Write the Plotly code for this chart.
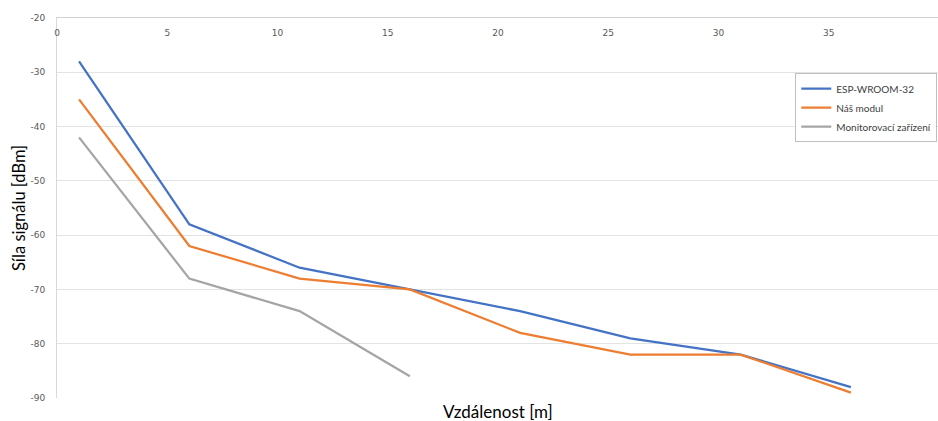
import plotly.graph_objects as go

distance = [1, 6, 11, 16, 21, 26, 31, 36]
esp_wroom = [-28, -58, -66, -70, -74, -79, -82, -88]
nas_modul = [-35, -62, -68, -70, -78, -82, -82, -89]
monitor_x = [1, 6, 11, 16]
monitor = [-42, -68, -74, -86]

x_ticks = [0, 5, 10, 15, 20, 25, 30, 35, 40]
y_ticks = [-20, -30, -40, -50, -60, -70, -80, -90]
y_tick_text = [str(v) for v in y_ticks]

fig = go.Figure()
fig.add_trace(go.Scatter(x=distance, y=esp_wroom, mode="lines", name="ESP-WROOM-32",
                         line=dict(color="#4472C4", width=2.25)))
fig.add_trace(go.Scatter(x=distance, y=nas_modul, mode="lines", name="Náš modul",
                         line=dict(color="#ED7D31", width=2.25)))
fig.add_trace(go.Scatter(x=monitor_x, y=monitor, mode="lines", name="Monitorovací zařízení",
                         xaxis="x2", yaxis="y",
                         line=dict(color="#A5A5A5", width=2.25)))

tick_font = dict(family="DejaVu Sans", size=9, color="#595959")

fig.update_layout(
    width=938, height=421,
    margin=dict(l=57, r=0, t=18, b=23),
    paper_bgcolor="white", plot_bgcolor="white",
    showlegend=True,
    legend=dict(x=0.838, y=0.855, xanchor="left", yanchor="top",
                bgcolor="white", bordercolor="#BFBFBF", borderwidth=1,
                font=dict(family="Lato", size=10, color="#404040"),
                itemwidth=30),
    xaxis=dict(range=[0, 39.95], side="top", showticklabels=False,
               showgrid=False, zeroline=False,
               showline=True, linecolor="#D0D0D0", linewidth=1, ticks=""),
    xaxis2=dict(overlaying="x", matches="x", anchor="free", position=1, side="bottom",
                tickvals=x_ticks, showgrid=False, zeroline=False, showline=False,
                ticks="", ticklabelstandoff=8, tickfont=tick_font),
    yaxis=dict(range=[-90, -20], tickvals=y_ticks, ticktext=y_tick_text,
               showgrid=True, gridcolor="#E3E3E3", gridwidth=1, zeroline=False,
               showline=True, linecolor="#D9D9D9", linewidth=1,
               ticks="", ticklabelstandoff=9, tickfont=tick_font),
    annotations=[
        dict(text="Vzdálenost [m]", x=0.5, y=-0.036, xref="paper", yref="paper",
             xanchor="center", yanchor="middle", showarrow=False,
             font=dict(family="Lato", size=17, color="#000000")),
        dict(text="Síla signálu [dBm]", x=-0.0431, y=0.5, xref="paper", yref="paper",
             xanchor="center", yanchor="middle", textangle=-90, showarrow=False,
             font=dict(family="Lato", size=16.5, color="#000000")),
    ],
)

fig.write_html("out.html")
